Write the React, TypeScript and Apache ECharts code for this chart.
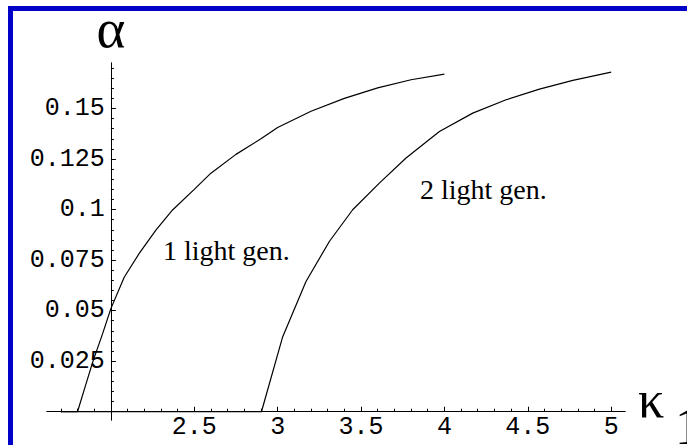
import React, { useEffect, useRef } from "react";
import * as echarts from "echarts";

// Curve for one light generation: alpha versus kappa_1
const kappaOneGen = [1.7, 1.8, 1.85, 1.893, 1.95, 2.0, 2.08, 2.17, 2.27, 2.37, 2.5, 2.6, 2.75, 2.9, 3.0, 3.2, 3.4, 3.6, 3.8, 4.0];
const alphaOneGen = [0, 0, 0.0135, 0.025, 0.0385, 0.051, 0.0665, 0.0783, 0.0898, 0.0998, 0.110, 0.118, 0.1273, 0.135, 0.1406, 0.1486, 0.155, 0.1602, 0.1642, 0.167];

// Curve for two light generations
const kappaTwoGen = [1.7, 2.903, 3.03, 3.17, 3.31, 3.45, 3.61, 3.77, 3.97, 4.17, 4.37, 4.57, 4.77, 5.0];
const alphaTwoGen = [0, 0, 0.037, 0.0644, 0.0842, 0.0999, 0.1131, 0.1255, 0.1386, 0.1477, 0.1543, 0.1596, 0.1639, 0.168];

// Axis ranges and tick values
const kappaRange = [1.617, 5.083];
const alphaRange = [-0.0041, 0.1725];
const kappaCrossing = 2; // the alpha axis is drawn at kappa = 2
const kappaMajorTicks = [2.5, 3, 3.5, 4, 4.5, 5];
const kappaMinorTicks = [1.7, 1.8, 1.9, 2.1, 2.2, 2.3, 2.4, 2.6, 2.7, 2.8, 2.9, 3.1, 3.2, 3.3, 3.4, 3.6, 3.7, 3.8, 3.9, 4.1, 4.2, 4.3, 4.4, 4.6, 4.7, 4.8, 4.9];
const alphaMajorTicks = [0.025, 0.05, 0.075, 0.1, 0.125, 0.15];
const alphaMinorTicks = [0.005, 0.01, 0.015, 0.02, 0.03, 0.035, 0.04, 0.045, 0.055, 0.06, 0.065, 0.07, 0.08, 0.085, 0.09, 0.095, 0.105, 0.11, 0.115, 0.12, 0.13, 0.135, 0.14, 0.145, 0.155, 0.16, 0.165, 0.17];

const curveLabels = ["1 light gen.", "2 light gen."];

const MONO = "'Liberation Mono', 'Courier New', monospace";
const SERIF = "'Liberation Serif', 'Times New Roman', serif";
const FRAME = "#0000c8";

const zip = (xs: number[], ys: number[]) => xs.map((x, i) => [x, ys[i]]);

export default function App() {
  const ref = useRef<HTMLDivElement>(null);

  useEffect(() => {
    if (!ref.current) return;
    const chart = echarts.init(ref.current, undefined, { renderer: "svg" });

    const axisLine = { lineStyle: { color: "#000", width: 1 } };
    const tickStyle = { color: "#000", width: 1 };

    const option: any = {
      animation: false,
      backgroundColor: "#fff",
      grid: { left: 47, right: 62, top: 63, bottom: 25, containLabel: false, outerBoundsMode: "none" },
      xAxis: [
        {
          type: "value",
          min: kappaRange[0],
          max: kappaRange[1],
          position: "bottom",
          axisLine: { show: true, onZero: true, ...axisLine },
          axisTick: { show: true, inside: true, length: 5, customValues: kappaMajorTicks, lineStyle: tickStyle },
          axisLabel: {
            customValues: kappaMajorTicks,
            formatter: (v: number) => String(v),
            fontFamily: MONO,
            fontSize: 25,
            color: "#000",
            verticalAlign: "middle",
            lineHeight: 18,
            margin: 7,
          },
          splitLine: { show: false },
        },
        {
          type: "value",
          min: kappaRange[0],
          max: kappaRange[1],
          position: "bottom",
          axisLine: { show: true, onZero: true, ...axisLine },
          axisTick: { show: true, inside: true, length: 3, customValues: kappaMinorTicks, lineStyle: tickStyle },
          axisLabel: { show: false },
          splitLine: { show: false },
        },
      ],
      yAxis: [
        {
          type: "value",
          min: alphaRange[0],
          max: alphaRange[1],
          position: "left",
          axisLine: { show: true, onZero: false, ...axisLine },
          axisTick: { show: true, inside: true, length: 5, customValues: alphaMajorTicks, lineStyle: tickStyle },
          axisLabel: {
            customValues: alphaMajorTicks,
            formatter: (v: number) => String(v),
            fontFamily: MONO,
            fontSize: 25,
            color: "#000",
            margin: 6,
          },
          splitLine: { show: false },
        },
        {
          type: "value",
          min: alphaRange[0],
          max: alphaRange[1],
          position: "left",
          axisLine: { show: true, onZero: false, ...axisLine },
          axisTick: { show: true, inside: true, length: 3, customValues: alphaMinorTicks, lineStyle: tickStyle },
          axisLabel: { show: false },
          splitLine: { show: false },
        },
      ],
      series: [
        {
          name: curveLabels[0],
          type: "line",
          data: zip(kappaOneGen, alphaOneGen),
          showSymbol: false,
          symbol: "none",
          clip: false,
          lineStyle: { color: "#000", width: 1.2 },
          z: 5,
        },
        {
          name: curveLabels[1],
          type: "line",
          data: zip(kappaTwoGen, alphaTwoGen),
          showSymbol: false,
          symbol: "none",
          clip: false,
          lineStyle: { color: "#000", width: 1.2 },
          z: 5,
        },
      ],
      graphic: [
        // blue frame along the top and left edges
        { type: "rect", shape: { x: 8, y: 6, width: 679, height: 5 }, style: { fill: FRAME }, silent: true },
        { type: "rect", shape: { x: 8, y: 6, width: 5, height: 439 }, style: { fill: FRAME }, silent: true },
        // axis titles
        {
          type: "text",
          x: 111,
          y: 28,
          style: { text: "α", font: `55px ${SERIF}`, lineHeight: 36, fill: "#000", align: "center", verticalAlign: "middle" },
          silent: true,
        },
        {
          type: "text",
          x: 651,
          y: 399,
          style: { text: "κ", font: `52px ${SERIF}`, lineHeight: 36, fill: "#000", align: "center", verticalAlign: "middle" },
          silent: true,
        },
        {
          type: "text",
          x: 675,
          y: 426,
          style: { text: "1", font: `52px ${SERIF}`, lineHeight: 36, fill: "#000", align: "left", verticalAlign: "middle" },
          silent: true,
        },
        // curve annotations
        {
          type: "text",
          x: 163,
          y: 250,
          style: { text: curveLabels[0], font: `28px ${SERIF}`, fill: "#000", align: "left", verticalAlign: "middle" },
          silent: true,
        },
        {
          type: "text",
          x: 420,
          y: 189,
          style: { text: curveLabels[1], font: `28px ${SERIF}`, fill: "#000", align: "left", verticalAlign: "middle" },
          silent: true,
        },
      ],
    };

    chart.setOption(option);

    // Move the alpha axis so that it crosses the kappa axis at kappa = 2
    for (let pass = 0; pass < 2; pass++) {
      const leftPx = chart.convertToPixel({ xAxisIndex: 0 }, kappaRange[0]) as number;
      const crossPx = chart.convertToPixel({ xAxisIndex: 0 }, kappaCrossing) as number;
      const offset = -(crossPx - leftPx);
      chart.setOption({ yAxis: [{ offset }, { offset }] });
    }

    return () => chart.dispose();
  }, []);

  return (
    <div
      ref={ref}
      style={{ position: "fixed", left: 0, top: 0, width: 687, height: 445, background: "#fff" }}
    />
  );
}
